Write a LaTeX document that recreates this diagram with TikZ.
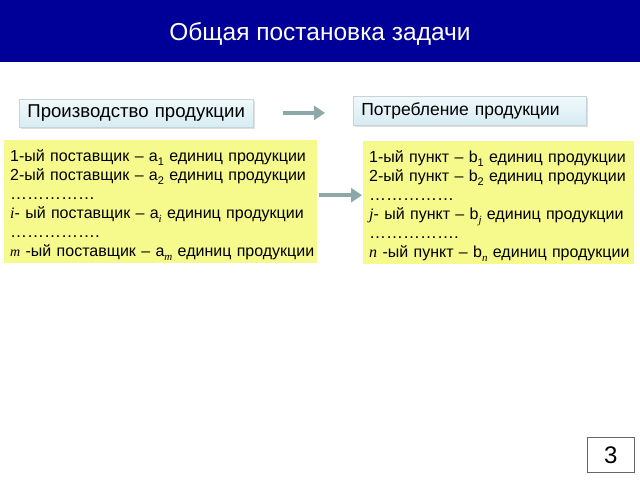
\documentclass[tikz,border=0pt]{standalone}
\usepackage{fontspec}
\setmainfont{Liberation Sans}
\newfontfamily\serifit{Liberation Serif}
\usetikzlibrary{shadows,arrows.meta}
\definecolor{titleblue}{RGB}{0,0,153}
\definecolor{yel}{RGB}{246,250,140}
\definecolor{hdrtop}{RGB}{240,249,251}
\definecolor{hdrbot}{RGB}{214,236,243}
\definecolor{hdrline}{RGB}{200,210,215}
\definecolor{arrcol}{RGB}{140,168,168}
\newcommand{\vi}[1]{{\serifit\itshape #1}}
\newcommand{\sbs}[1]{\raisebox{-4pt}{\fontsize{11}{11}\selectfont #1}}
\newcommand{\dotrow}[1]{\mbox{\fontsize{17}{19}\selectfont #1}}
\newcommand{\oneline}[1]{\mbox{#1}}
\tikzset{
  hdrbox/.style={draw=hdrline, line width=0.8pt, top color=hdrtop, bottom color=hdrbot,
    drop shadow={shadow xshift=1.5pt, shadow yshift=-1.5pt, opacity=0.25},
    anchor=north west, inner sep=0pt, align=left,
    text height=13pt, text depth=4pt},
  yelbox/.style={fill=yel, anchor=north west, inner xsep=6pt, inner ysep=0pt, align=left,
    font=\fontsize{16}{19}\selectfont},
  bigarr/.style={arrcol, line width=4.5pt, -{Triangle[width=14pt,length=11pt]}},
  numbox/.style={draw=black!60, line width=0.6pt, anchor=north west, inner sep=0pt,
    font=\fontsize{24}{26}\selectfont}
}
\begin{document}
\begin{tikzpicture}[x=1pt,y=-1pt]
\useasboundingbox (0,0) rectangle (640,480);
\fill[white] (0,0) rectangle (640,480);
\fill[titleblue] (0,0) rectangle (640,62);
\node[text=white, font=\fontsize{24.5}{28}\selectfont] (title) at (320,34) {Общая постановка задачи};
% header boxes
\node[hdrbox, font=\fontsize{18.6}{20}\selectfont, minimum width=234pt, minimum height=28pt, text width=226pt] (prod) at (19,99)
  {\hspace*{4pt}Производство продукции};
\node[hdrbox, font=\fontsize{17.5}{20}\selectfont, minimum width=233pt, minimum height=29pt, text width=225pt] (cons) at (353,96)
  {\hspace*{4pt}Потребление продукции};
% yellow boxes
\node[yelbox, minimum width=313pt, minimum height=123pt, text width=301pt] (left) at (4,140)
  {\oneline{\rule{0pt}{18pt}1-ый поставщик – a\sbs{1} единиц продукции}\\
   \oneline{2-ый поставщик – a\sbs{2} единиц продукции}\\
   \dotrow{……………}\\
   \oneline{\vi{i}- ый поставщик – a\sbs{\vi{i}} единиц продукции}\\
   \dotrow{…………….}\\
   \oneline{{\fontsize{14}{19}\selectfont\vi{m}} -ый поставщик – a\sbs{\vi{m}} единиц продукции}};
\node[yelbox, minimum width=271pt, minimum height=123pt, text width=259pt] (right) at (363,141)
  {\oneline{\rule{0pt}{18pt}1-ый пункт – b\sbs{1} единиц продукции}\\
   \oneline{2-ый пункт – b\sbs{2} единиц продукции}\\
   \dotrow{……………}\\
   \oneline{\vi{j}- ый пункт – b\sbs{\vi{j}} единиц продукции}\\
   \dotrow{…………….}\\
   \oneline{\vi{n} -ый пункт – b\sbs{\vi{n}} единиц продукции}};
% arrows
\coordinate (a1) at ([yshift=0.5pt]prod.east);
\draw[bigarr, shorten <=29pt, shorten >=28pt] (a1) -- (a1 -| cons.west);
\coordinate (a2) at ([yshift=6.5pt]left.east);
\draw[bigarr, shorten <=2pt, shorten >=1pt] (a2) -- (a2 -| right.west);
% page number
\node[numbox, minimum width=47pt, minimum height=35pt] (num) at (587,437) {3};
\end{tikzpicture}
\end{document}
